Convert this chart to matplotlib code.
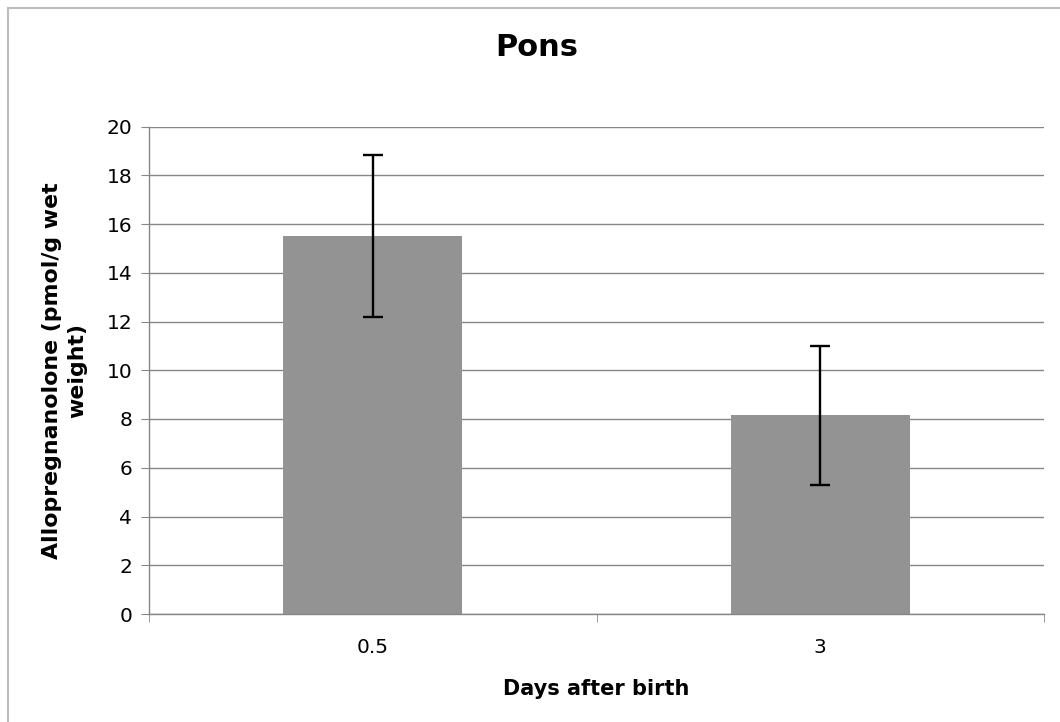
import matplotlib
matplotlib.use("Agg")
import matplotlib.pyplot as plt
from matplotlib.lines import Line2D

categories = ["0.5", "3"]
means = [15.5, 8.15]
errors = [3.33, 2.85]

yticks = [0, 2, 4, 6, 8, 10, 12, 14, 16, 18, 20]

size = 14.5

fig = plt.figure(figsize=(10.6, 7.22), dpi=100)
ax = fig.add_axes([149 / 1060, 1 - 614 / 722, (1044 - 149) / 1060, (614 - 126.5) / 722])

x = list(range(len(categories)))
ax.bar(x, means, width=0.4, color="#939393", zorder=2)
ax.errorbar(x, means, yerr=errors, fmt="none", ecolor="black",
            elinewidth=1.7, capsize=7, capthick=1.7, zorder=3)

ax.set_xlim(-0.5, len(categories) - 0.5)
ax.set_ylim(0, 20)
ax.set_yticks(yticks)
ax.set_yticklabels([str(v) for v in yticks], fontsize=size)
ax.set_xticks(x)
ax.set_xticklabels(categories, fontsize=size)
ax.tick_params(axis="x", length=0, pad=17)
ax.tick_params(axis="y", length=6, color="#868686", pad=6)

# category boundary ticks like excel
ax.set_xticks([-0.5, 0.5, 1.5], minor=True)
ax.tick_params(axis="x", which="minor", length=6, color="#868686")

ax.yaxis.grid(True, color="#868686", linewidth=1)
ax.set_axisbelow(True)
for s in ["top", "right"]:
    ax.spines[s].set_visible(False)
for s in ["left", "bottom"]:
    ax.spines[s].set_color("#868686")
    ax.spines[s].set_linewidth(1)

ax.set_xlabel("Days after birth", fontsize=15, fontweight="bold", labelpad=16)
ax.set_ylabel("Allopregnanolone (pmol/g wet\nweight)", fontsize=15.8,
              fontweight="bold", labelpad=14, linespacing=1.3)

fig.text(537 / 1060, 1 - 47 / 722, "Pons", ha="center", va="center",
         fontsize=22, fontweight="bold")

# chart border (left and top visible)
fig.add_artist(Line2D([8 / 1060, 8 / 1060], [0, 1 - 8 / 722], color="#bdbdbd", lw=1.5,
                      transform=fig.transFigure))
fig.add_artist(Line2D([8 / 1060, 1], [1 - 8 / 722, 1 - 8 / 722], color="#bdbdbd", lw=1.5,
                      transform=fig.transFigure))

fig.savefig("out.png", dpi=100)
